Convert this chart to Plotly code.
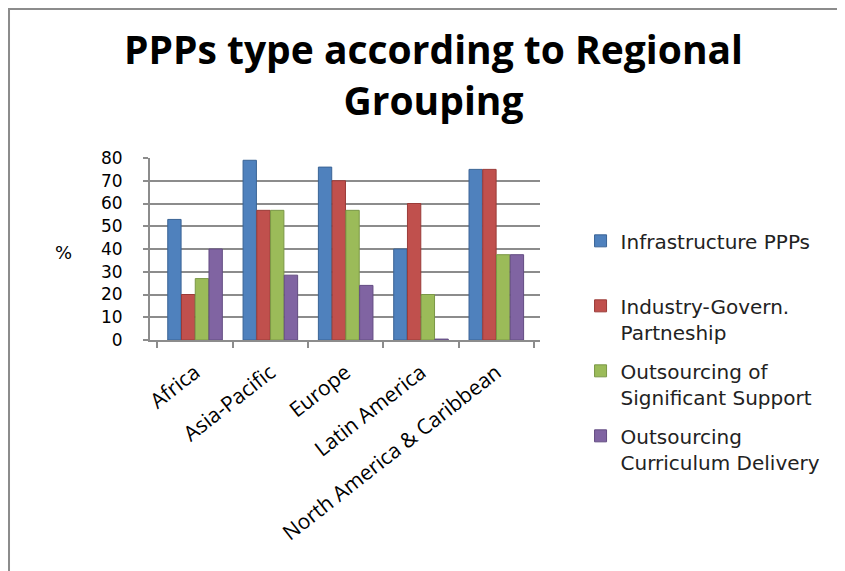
import plotly.graph_objects as go

regions = ["Africa", "Asia-Pacific", "Europe", "Latin America", "North America & Caribbean"]
series_names = [
    "Infrastructure PPPs<br>\u00a0",
    "Industry-Govern.<br>Partneship",
    "Outsourcing of<br>Significant Support",
    "Outsourcing<br>Curriculum Delivery",
]
infrastructure = [53, 79, 76, 40, 75]
industry_govern = [20, 57, 70, 60, 75]
outsourcing_support = [27, 57, 57, 20, 37.5]
outsourcing_curriculum = [40, 28.5, 24, 0.4, 37.5]
y_ticks = [0, 10, 20, 30, 40, 50, 60, 70, 80]

colors = ["#4F81BD", "#C0504D", "#9BBB59", "#8064A2"]
edge = ["#3A6395", "#9A3B38", "#7A9746", "#634C82"]
values = [infrastructure, industry_govern, outsourcing_support, outsourcing_curriculum]

fig = go.Figure()
for i, (name, vals) in enumerate(zip(series_names, values)):
    fig.add_trace(go.Bar(
        x=regions, y=vals, name=name,
        marker=dict(color=colors[i], line=dict(color=edge[i], width=1)),
        legendgroup=f"g{i}",
    ))

fig.update_layout(
    width=845, height=571,
    paper_bgcolor="white", plot_bgcolor="white",
    margin=dict(l=142, r=313, t=150, b=239, autoexpand=False),
    barmode="group", bargap=0.27, bargroupgap=0.03,
    font=dict(family="Open Sans", color="black"),
    showlegend=True,
    legend=dict(
        x=1.104, xanchor="left", y=0.652, yanchor="top",
        font=dict(family="DejaVu Sans", size=20, color="#222"),
        tracegroupgap=10, itemwidth=30, valign="top",
        bgcolor="rgba(0,0,0,0)", maxheight=400,
    ),
    xaxis=dict(
        range=[-0.598, 4.58], automargin=False,
        tickangle=-38, tickson="boundaries",
        tickfont=dict(family="Open Sans", size=21, color="black"),
        showline=True, linecolor="#8c8c8c", linewidth=2,
        ticks="outside", ticklen=6, tickcolor="#8c8c8c", tickwidth=2,
        ticklabelstandoff=10,
        showgrid=False,
    ),
    yaxis=dict(
        range=[0, 80], tickvals=y_ticks, automargin=False,
        tickfont=dict(family="DejaVu Sans", size=17, color="black"),
        showline=True, linecolor="#8c8c8c", linewidth=2,
        ticks="outside", ticklen=5, tickcolor="#8c8c8c", tickwidth=2,
        ticklabelstandoff=17,
        showgrid=True, gridcolor="#8c8c8c", gridwidth=2,
        zeroline=False,
    ),
    annotations=[
        dict(text="<b>PPPs type according to Regional<br>Grouping</b>", xref="paper", yref="paper",
             x=0.728, y=1.464, xanchor="center", yanchor="middle", showarrow=False,
             align="center",
             font=dict(family="Open Sans", size=39, color="black")),
        dict(text="%", xref="paper", yref="paper", x=-0.223, y=0.4835,
             xanchor="center", yanchor="middle", showarrow=False,
             font=dict(family="DejaVu Sans", size=18, color="black")),
    ],
    shapes=[dict(
        type="rect", xref="paper", yref="paper",
        x0=-0.3615, x1=1.9, y0=-1.5, y1=1.8187,
        line=dict(color="#8c8c8c", width=2), fillcolor="rgba(0,0,0,0)",
        layer="below",
    )],
)

fig.write_html("out.html")
